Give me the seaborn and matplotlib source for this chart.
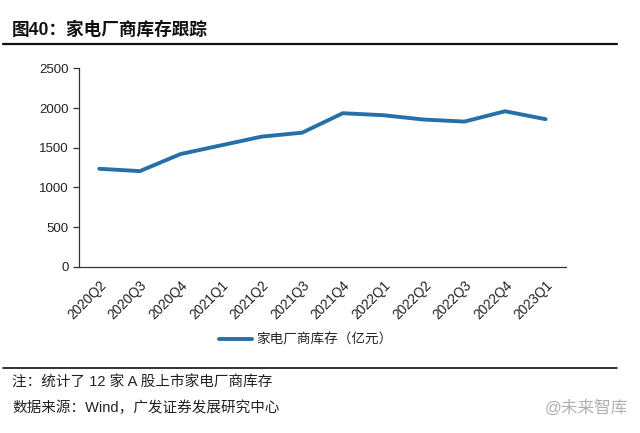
import matplotlib
matplotlib.use("Agg")
import matplotlib.pyplot as plt
import seaborn as sns
import pandas as pd

# 数据（亿元）
quarters = ["2020Q2", "2020Q3", "2020Q4", "2021Q1", "2021Q2", "2021Q3",
            "2021Q4", "2022Q1", "2022Q2", "2022Q3", "2022Q4", "2023Q1"]
inventory = [1235, 1205, 1420, 1530, 1640, 1690,
             1935, 1910, 1855, 1830, 1960, 1860]
yticks = [0, 500, 1000, 1500, 2000, 2500]

title = "图40：家电厂商库存跟踪"
series_name = "家电厂商库存（亿元）"
note = "注：统计了 12 家 A 股上市家电厂商库存"
source = "数据来源：Wind，广发证券发展研究中心"

sns.set_theme(style="white")
plt.rcParams["font.family"] = ["Liberation Sans", "Noto Sans CJK SC", "DejaVu Sans"]

df = pd.DataFrame({"q": range(len(quarters)), "v": inventory})

fig = plt.figure(figsize=(6.4, 4.33), dpi=100)
ax = fig.add_axes([0.1234, 0.384, 0.7609, 0.458])

sns.lineplot(data=df, x="q", y="v", ax=ax, color="#2670A8", linewidth=2.8,
             solid_capstyle="round", label=series_name, legend=False)

ax.set_xlim(-0.5, len(quarters) - 0.5)
ax.set_ylim(0, 2500)
ax.set_yticks(yticks)
ax.set_yticklabels([str(t) for t in yticks], fontsize=9.5, color="#222222")
ax.set_xticks(range(len(quarters)))
ax.set_xticklabels(quarters, rotation=45, ha="right", rotation_mode="anchor",
                   fontsize=9.8, color="#222222")
ax.set_xticks([i - 0.5 for i in range(len(quarters) + 1)], minor=True)
ax.tick_params(axis="x", which="major", length=0, pad=8)
ax.tick_params(axis="x", which="minor", length=4, width=0.9, color="#333333", direction="out")
ax.tick_params(axis="y", length=4, width=0.9, color="#333333", direction="out", left=True)
ax.set_xlabel("")
ax.set_ylabel("")
for s in ["top", "right"]:
    ax.spines[s].set_visible(False)
for s in ["left", "bottom"]:
    ax.spines[s].set_color("#333333")
    ax.spines[s].set_linewidth(0.9)

# 图例
fig.legend(handles=ax.get_lines(), labels=[series_name], loc="center",
           bbox_to_anchor=(0.478, 1 - 340 / 433), frameon=False,
           fontsize=9.8, handlelength=2.4, handletextpad=0.35)

# 标题与分隔线
fig.text(12 / 640, 1 - 30 / 433, title, fontsize=12.7, fontweight="bold",
         va="center", ha="left", color="#111111")
fig.add_artist(plt.Line2D([3 / 640, 617 / 640], [1 - 44 / 433, 1 - 44 / 433],
                          color="#111111", linewidth=1.6))
fig.add_artist(plt.Line2D([3 / 640, 617 / 640], [1 - 368 / 433, 1 - 368 / 433],
                          color="#111111", linewidth=1.2))

fig.text(12 / 640, 1 - 383 / 433, note, fontsize=10.5, va="center", ha="left", color="#222222")
fig.text(12 / 640, 1 - 408 / 433, source, fontsize=10.5, va="center", ha="left", color="#222222")
fig.text(628 / 640, 1 - 408 / 433, "@未来智库", fontsize=12, va="center", ha="right",
         color="#b0b0b0")

fig.savefig("out.png", dpi=100)
